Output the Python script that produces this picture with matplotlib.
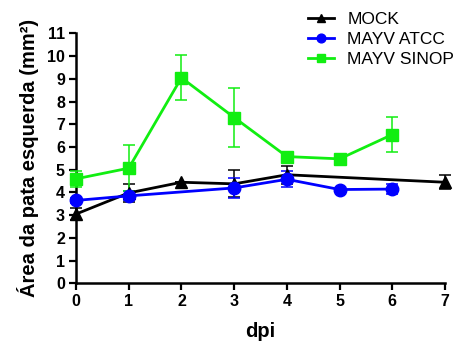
import matplotlib.pyplot as plt
import numpy as np

plt.rcParams["font.family"] = ["Liberation Sans", "DejaVu Sans"]

# values
mock_x = [0, 1, 2, 3, 4, 7]
mock_y = [3.05, 3.98, 4.45, 4.38, 4.78, 4.45]
mock_err = [0.25, 0.4, 0.0, 0.6, 0.4, 0.3]

atcc_x = [0, 1, 3, 4, 5, 6]
atcc_y = [3.65, 3.85, 4.2, 4.58, 4.13, 4.15]
atcc_err = [0.1, 0.2, 0.43, 0.35, 0.0, 0.22]

sinop_x = [0, 1, 2, 3, 4, 5, 6]
sinop_y = [4.6, 5.07, 9.05, 7.3, 5.58, 5.48, 6.55]
sinop_err = [0.35, 1.0, 1.0, 1.3, 0.1, 0.05, 0.78]

series = [
    ("MOCK", mock_x, mock_y, mock_err, "black", "^", 8),
    ("MAYV ATCC", atcc_x, atcc_y, atcc_err, "#0000ff", "o", 9),
    ("MAYV SINOP", sinop_x, sinop_y, sinop_err, "#11ee11", "s", 8),
]

fig = plt.figure(figsize=(4.75, 3.52), dpi=100)
ax = fig.add_axes([0.16, 0.195, 0.777, 0.71])

handles = []
for label, x, y, e, c, m, ms in series:
    ax.errorbar(x, y, yerr=e, color=c, marker=m, ms=ms, lw=2.0,
                elinewidth=1.1, capsize=4.5, capthick=1.1,
                clip_on=False, zorder=3)
    h, = ax.plot([], [], color=c, marker=m, ms=ms * 0.7, lw=2.0, label=label)
    handles.append(h)

ax.set_xlim(0, 7)
ax.set_ylim(0, 11)
ax.set_xticks(range(0, 8))
ax.set_yticks(range(0, 12))
for s in ["top", "right"]:
    ax.spines[s].set_visible(False)
for s in ["left", "bottom"]:
    ax.spines[s].set_linewidth(1.8)
ax.tick_params(direction="out", length=5, width=1.6, labelsize=11.5, pad=3)
for t in ax.get_xticklabels() + ax.get_yticklabels():
    t.set_fontweight("bold")
ax.set_xlabel("dpi", fontsize=14.5, fontweight="bold", labelpad=9)
ax.set_ylabel("Área da pata esquerda (mm²)", fontsize=14.5, fontweight="bold",
              labelpad=6)

ax.legend(handles=handles, loc="upper left", bbox_to_anchor=(0.585, 1.15),
          frameon=False, fontsize=12.5, handlelength=1.5, labelspacing=0.3,
          handletextpad=0.8)

fig.savefig("out.png", dpi=100)
